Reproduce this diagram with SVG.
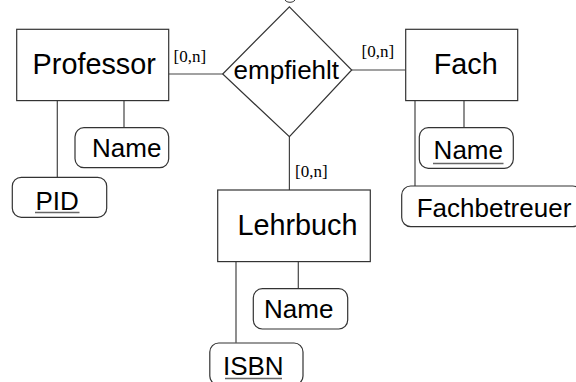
<svg xmlns="http://www.w3.org/2000/svg" width="576" height="382" viewBox="0 0 576 382">
<style>
.box{fill:#fff;stroke:#333;stroke-width:1.2}
.attr{fill:#fff;stroke:#333;stroke-width:1.2}
.ln{stroke:#444;stroke-width:1.2;fill:none}
.ul{stroke:#666;stroke-width:1.5}
.ent{font-family:"Liberation Sans",Arial,sans-serif;font-size:28.8px;fill:#000;text-anchor:middle}
.at{font-family:"Liberation Sans",Arial,sans-serif;font-size:26px;fill:#000;text-anchor:middle}
.card{font-family:"Liberation Serif","Times New Roman",serif;font-size:17px;fill:#000}
</style>
<rect width="576" height="382" fill="#fff"/>
<g id="connectors">
<line class="ln" x1="168.5" y1="74" x2="222.7" y2="74"/>
<line class="ln" x1="351.7" y1="70" x2="405.5" y2="70"/>
<line class="ln" x1="289.4" y1="136.7" x2="289.4" y2="190"/>
<line class="ln" x1="124" y1="100.5" x2="124" y2="127.7"/>
<line class="ln" x1="57.3" y1="100.5" x2="57.3" y2="177.3"/>
<line class="ln" x1="464" y1="100.5" x2="464" y2="127.7"/>
<line class="ln" x1="415" y1="100.5" x2="415" y2="186"/>
<line class="ln" x1="298.3" y1="261.5" x2="298.3" y2="288.7"/>
<line class="ln" x1="236" y1="261.5" x2="236" y2="342.7"/>
<text class="card" x="173.5" y="61.5">[0,n]</text>
<text class="card" x="361.5" y="57.3">[0,n]</text>
<text class="card" x="295" y="176.7">[0,n]</text>
</g>
<g id="top-mark">
<ellipse cx="290" cy="-1.5" rx="5.5" ry="3.8" fill="none" stroke="#333" stroke-width="1"/>
</g>
<g id="empfiehlt">
<polygon class="box" points="289.4,6.8 351.7,70 289.4,136.7 222.7,74"/>
<text class="at" x="286.3" y="79">empfiehlt</text>
</g>
<g id="professor">
<rect class="box" x="16.7" y="29.3" width="152" height="71.3"/>
<text class="ent" x="94.2" y="73.5">Professor</text>
</g>
<g id="fach">
<rect class="box" x="405.7" y="29.3" width="112" height="71.3"/>
<text class="ent" x="465.7" y="73.5">Fach</text>
</g>
<g id="lehrbuch">
<rect class="box" x="217.7" y="190" width="152.6" height="71.6"/>
<text class="ent" x="297.5" y="234.5">Lehrbuch</text>
</g>
<g id="prof-name">
<rect class="attr" x="75" y="127.7" width="93.7" height="40" rx="9"/>
<text class="at" x="126.7" y="156.7">Name</text>
</g>
<g id="pid">
<rect class="attr" x="12.3" y="177.3" width="94.4" height="40" rx="9"/>
<text class="at" x="57.2" y="209.5">PID</text>
<line class="ul" x1="35" y1="212.5" x2="79.5" y2="212.5"/>
</g>
<g id="fach-name">
<rect class="attr" x="419.3" y="127.7" width="94" height="40.6" rx="9"/>
<text class="at" x="468.3" y="158.5">Name</text>
<line class="ul" x1="433" y1="163.5" x2="503.5" y2="163.5"/>
</g>
<g id="fachbetreuer">
<rect class="attr" x="401.7" y="186" width="180" height="40.6" rx="9"/>
<text class="at" x="494" y="216.7">Fachbetreuer</text>
</g>
<g id="lehrbuch-name">
<rect class="attr" x="253.3" y="288.7" width="94.4" height="40.3" rx="9"/>
<text class="at" x="298.7" y="317.7">Name</text>
</g>
<g id="isbn">
<rect class="attr" x="209.8" y="343" width="93.2" height="42" rx="9"/>
<text class="at" x="253.3" y="375">ISBN</text>
<line class="ul" x1="225" y1="378.5" x2="282" y2="378.5"/>
</g>
</svg>
